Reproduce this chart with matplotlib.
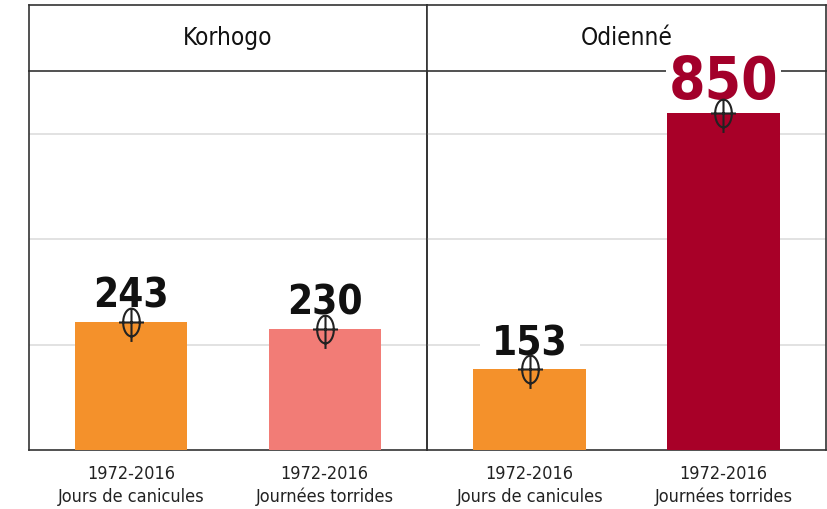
import numpy as np
import matplotlib
matplotlib.use("Agg")
import matplotlib.pyplot as plt
from matplotlib.path import Path

plt.rcParams['font.family'] = ['DejaVu Sans']
plt.rcParams['font.stretch'] = 'condensed'

# data
villes = ["Korhogo", "Odienné"]
periode = "1972-2016"
indicateurs = ["Jours de canicules", "Journées torrides"]
valeurs = {"Korhogo": [243, 230], "Odienné": [153, 850]}
couleurs = {"Korhogo": ["#F4912B", "#F27C76"], "Odienné": ["#F4912B", "#A80028"]}
label_couleurs = {"Korhogo": ["#111111", "#111111"], "Odienné": ["#111111", "#A3002A"]}
grille = [200, 400, 600]
cap = 640   # tall bars are cut off in the original graphic
ymax = 720

W, H = 828, 510
fig = plt.figure(figsize=(W / 100, H / 100), dpi=100)

# crosshair marker: tall ellipse + cross
t = np.linspace(0, 2 * np.pi, 40)
verts = list(zip(0.6 * np.cos(t), np.sin(t)))
codes = [Path.MOVETO] + [Path.LINETO] * (len(verts) - 1)
verts += [(-0.9, 0), (0.9, 0), (0, -1.4), (0, 1.0)]
codes += [Path.MOVETO, Path.LINETO, Path.MOVETO, Path.LINETO]
crosshair = Path(verts, codes)

x0, xmid, x1 = 29, 427, 826
ybot, yhead, ytop = 451, 72, 6
panels = [(x0, xmid), (xmid, x1)]

for (l, r), ville in zip(panels, villes):
    # header strip
    hax = fig.add_axes([l / W, 1 - yhead / H, (r - l) / W, (yhead - ytop) / H])
    hax.set_xticks([]); hax.set_yticks([])
    for s in hax.spines.values():
        s.set_color("#333333"); s.set_linewidth(1.2)
    hax.text(0.5, 0.52, ville, ha='center', va='center', fontsize=17.5, color="#111111",
             transform=hax.transAxes)

    ax = fig.add_axes([l / W, 1 - ybot / H, (r - l) / W, (ybot - yhead) / H], zorder=3)
    ax.patch.set_alpha(0)
    x = np.arange(len(indicateurs))
    vals = np.array(valeurs[ville])
    haut = np.minimum(vals, cap)
    # bars above the label boxes so the white boxes only cut the gridlines
    ax.bar(x, haut, width=0.58, color=couleurs[ville], zorder=3.5)
    for g in grille:
        ax.axhline(g, color="#dddddd", lw=1.2, zorder=1)
    ax.plot(x, haut, ls='none', marker=crosshair, markersize=28, mec="#222222",
            mfc='none', mew=1.5, zorder=4)
    for xi, hi, v, c in zip(x, haut, vals, label_couleurs[ville]):
        big = v > cap
        ax.annotate(str(v), (xi, hi), xytext=(0, 11), textcoords='offset points',
                    ha='center', va='baseline', fontsize=42 if big else 29,
                    fontweight='bold', color=c, zorder=3, annotation_clip=False,
                    bbox=dict(boxstyle='square,pad=' + ('0.05' if big else '0.3'),
                              fc='white', ec='none'))
    ax.set_xlim(-0.53, 1.53)
    ax.set_ylim(0, ymax)
    ax.set_yticks([])
    ax.set_xticks(x, [periode + "\n" + s for s in indicateurs], fontsize=13,
                  color="#222222", linespacing=1.35)
    ax.tick_params(axis='x', length=0, pad=10)
    for s in ax.spines.values():
        s.set_color("#333333"); s.set_linewidth(1.2)
    ax.spines['top'].set_visible(False)

fig.savefig("out.png", dpi=100, facecolor="white")
